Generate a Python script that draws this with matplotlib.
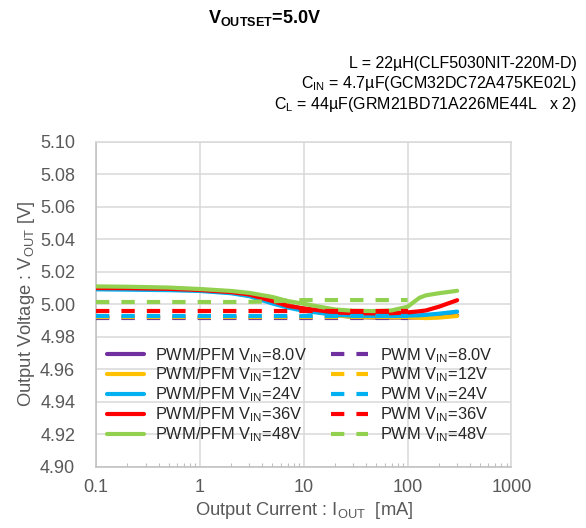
"""
Output voltage vs output current, VOUTSET = 5.0V, PWM/PFM and PWM modes.
"""

import matplotlib

matplotlib.use("Agg")
import matplotlib.pyplot as plt
from matplotlib.ticker import FixedLocator, LogLocator, NullFormatter

plt.rcParams["font.family"] = ["Liberation Sans", "DejaVu Sans"]
plt.rcParams["mathtext.default"] = "regular"

TEXT = "#595959"
GRID = "#D9D9D9"

# Load current [mA]
iout_auto = [0.1, 0.2, 0.5, 1, 2, 3, 5, 7, 10, 20, 30, 50, 70, 100, 130, 150, 200, 300]
iout_pwm = [0.1, 0.2, 0.5, 1, 2, 3, 5, 7, 10, 20, 30, 50, 70, 100]

# PWM/PFM (solid)
vout_auto_8v = [5.0105, 5.0103, 5.0098, 5.0090, 5.0075, 5.0060, 5.0025, 4.9995, 4.9970, 4.9935,
                4.9922, 4.9918, 4.9918, 4.9918, 4.9919, 4.9920, 4.9925, 4.9932]
vout_auto_12v = [5.0102, 5.0100, 5.0096, 5.0088, 5.0073, 5.0058, 5.0022, 4.9993, 4.9968, 4.9932,
                 4.9922, 4.9920, 4.9920, 4.9920, 4.9917, 4.9915, 4.9918, 4.9928]
vout_auto_24v = [5.0092, 5.0090, 5.0087, 5.0082, 5.0068, 5.0050, 5.0005, 4.9980, 4.9960, 4.9935,
                 4.9930, 4.9928, 4.9928, 4.9930, 4.9932, 4.9935, 4.9942, 4.9955]
vout_auto_36v = [5.0100, 5.0099, 5.0095, 5.0088, 5.0075, 5.0060, 5.0020, 4.9990, 4.9975, 4.9950,
                 4.9945, 4.9944, 4.9945, 4.9950, 4.9957, 4.9962, 4.9985, 5.0025]
vout_auto_48v = [5.0110, 5.0108, 5.0103, 5.0094, 5.0082, 5.0070, 5.0045, 5.0020, 5.0003, 4.9968,
                 4.9960, 4.9958, 4.9962, 4.9985, 5.0040, 5.0055, 5.0068, 5.0083]

# PWM (dashed)
vout_pwm_8v = [4.9916] * 14
vout_pwm_12v = [4.9920] * 14
vout_pwm_24v = [4.9928] * 14
vout_pwm_36v = [4.9961] * 14
vout_pwm_48v = [5.0014, 5.0014, 5.0014, 5.0014, 5.0014, 5.0015, 5.0018, 5.0023, 5.0026, 5.0026,
                5.0026, 5.0026, 5.0026, 5.0026]

vin_labels = ["8.0V", "12V", "24V", "36V", "48V"]
colors = ["#7030A0", "#FFC000", "#00B0F0", "#FF0000", "#92D050"]

auto_series = [vout_auto_8v, vout_auto_12v, vout_auto_24v, vout_auto_36v, vout_auto_48v]
pwm_series = [vout_pwm_8v, vout_pwm_12v, vout_pwm_24v, vout_pwm_36v, vout_pwm_48v]

fig = plt.figure(figsize=(5.86, 5.28), dpi=100)
ax = fig.add_axes([0.1638, 0.116, 0.7090, 0.6154])

auto_handles = []
for vals, col, lab in zip(auto_series, colors, vin_labels):
    (h,) = ax.plot(iout_auto, vals, color=col, lw=3, solid_capstyle="round",
                   label=f"PWM/PFM V$_{{IN}}$={lab}", zorder=3)
    auto_handles.append(h)

pwm_handles = []
for vals, col, lab in zip(pwm_series, colors, vin_labels):
    (h,) = ax.plot(iout_pwm, vals, color=col, lw=3, dashes=(3.2, 2.9),
                   label=f"PWM V$_{{IN}}$={lab}", zorder=4)
    pwm_handles.append(h)

ax.set_xscale("log")
ax.set_xlim(0.1, 1000)
ax.set_ylim(4.90, 5.10)
ax.yaxis.set_major_locator(FixedLocator([4.90 + 0.02 * k for k in range(11)]))
ax.set_yticklabels([f"{4.90 + 0.02 * k:.2f}" for k in range(11)])
ax.xaxis.set_major_locator(FixedLocator([0.1, 1, 10, 100, 1000]))
ax.set_xticklabels(["0.1", "1", "10", "100", "1000"])
ax.xaxis.set_minor_locator(LogLocator(base=10, subs=range(2, 10)))
ax.xaxis.set_minor_formatter(NullFormatter())

ax.grid(True, which="major", color=GRID, lw=1.1)
ax.set_axisbelow(True)
for sp in ax.spines.values():
    sp.set_color(GRID)
    sp.set_linewidth(1.1)
ax.spines["left"].set_color("#BFBFBF")
ax.spines["bottom"].set_color("#BFBFBF")

ax.tick_params(axis="y", length=0, pad=15, labelsize=13, labelcolor=TEXT)
ax.tick_params(axis="x", which="major", direction="in", length=0, pad=9,
               labelsize=13, labelcolor=TEXT)
ax.tick_params(axis="x", which="minor", direction="in", length=3, width=0.8, color="#BFBFBF")

ax.set_xlabel("Output Current : I$_{OUT}$  [mA]", fontsize=13.2, color=TEXT, labelpad=3)
ax.set_ylabel("Output Voltage : V$_{OUT}$ [V]", fontsize=13.2, color=TEXT, labelpad=2)

handles = auto_handles + pwm_handles
ax.legend(handles=handles, labels=[h.get_label() for h in handles], ncol=2,
          loc="upper left", bbox_to_anchor=(0.026, 0.372), frameon=False,
          fontsize=11.8, labelcolor="#262626", handlelength=2.25, handletextpad=0.72,
          columnspacing=1.45, labelspacing=0.07, borderpad=0, borderaxespad=0)

fig.text(208 / 586, 1 - 18 / 528, "V$_{OUTSET}$=5.0V", fontsize=13, fontweight="bold",
         color="black", ha="left", va="center")
notes = [
    "L = 22µH(CLF5030NIT-220M-D)",
    "C$_{IN}$ = 4.7µF(GCM32DC72A475KE02L)",
    "C$_{L}$ = 44µF(GRM21BD71A226ME44L   x 2)",
]
for k, line in enumerate(notes):
    fig.text(577 / 586, 1 - (63 + 20.5 * k) / 528, line, fontsize=11.5, color="black",
             ha="right", va="center")

fig.savefig("out.png", dpi=100)
